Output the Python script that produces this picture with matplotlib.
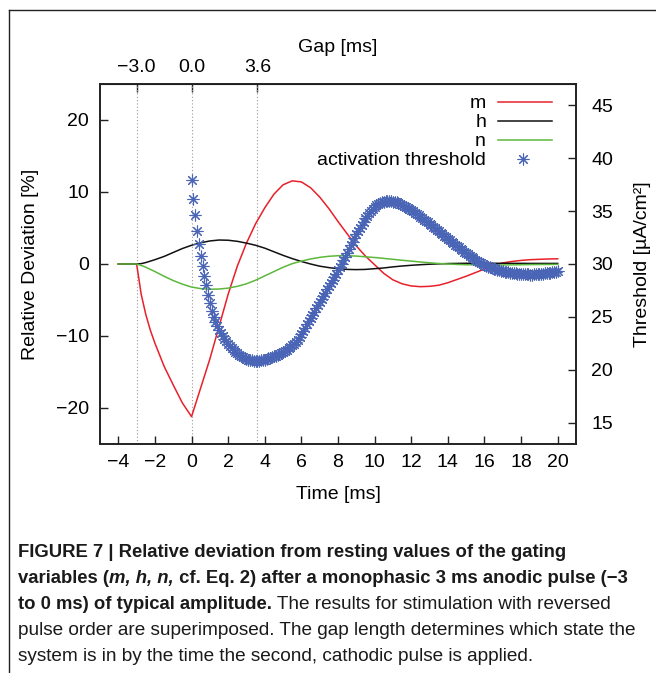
import numpy as np
import matplotlib
matplotlib.use('Agg')
import matplotlib.pyplot as plt
from matplotlib.lines import Line2D

plt.rcParams['font.family'] = ['Liberation Sans', 'DejaVu Sans']
plt.rcParams['axes.unicode_minus'] = True

CAPTION_FONT = ['Liberation Sans', 'DejaVu Sans']

# Gating variables, relative deviation from rest [%]
time_ms = [-4, -3, -2.75, -2.5, -2.25, -2, -1.5, -1, -0.5, 0, 0.5, 1, 1.5, 2,
           2.5, 3, 3.5, 4, 4.5, 5, 5.5, 6, 6.5, 7, 7.5, 8, 8.5, 9, 9.5, 10,
           10.5, 11, 11.5, 12, 12.5, 13, 13.5, 14, 14.5, 15, 15.5, 16, 16.5,
           17, 17.5, 18, 18.5, 19, 19.5, 20]
m_dev = [0, 0, -4.2, -7.0, -9.2, -11.0, -14.2, -16.8, -19.3, -21.2, -17.2,
         -13.2, -8.7, -4.2, -0.3, 2.9, 5.6, 7.8, 9.7, 11.0, 11.55, 11.4, 10.6,
         9.3, 7.7, 5.9, 4.2, 2.5, 1.1, -0.1, -1.3, -2.2, -2.75, -3.05, -3.15,
         -3.1, -2.95, -2.6, -2.15, -1.7, -1.2, -0.7, -0.2, 0.15, 0.35, 0.5,
         0.6, 0.65, 0.7, 0.72]
h_dev = [0, 0, 0.05, 0.2, 0.4, 0.6, 1.05, 1.6, 2.15, 2.6, 2.95, 3.2, 3.33,
         3.3, 3.15, 2.9, 2.6, 2.2, 1.7, 1.2, 0.75, 0.35, 0.0, -0.3, -0.5,
         -0.65, -0.75, -0.78, -0.75, -0.65, -0.55, -0.4, -0.28, -0.18, -0.1,
         -0.03, 0.02, 0.06, 0.08, 0.1, 0.1, 0.1, 0.1, 0.1, 0.09, 0.09, 0.08,
         0.08, 0.08, 0.08]
n_dev = [0, 0, -0.2, -0.45, -0.75, -1.05, -1.7, -2.3, -2.8, -3.2, -3.42,
         -3.5, -3.48, -3.35, -3.1, -2.75, -2.25, -1.65, -1.05, -0.45, 0.05,
         0.4, 0.7, 0.92, 1.07, 1.15, 1.15, 1.1, 1.0, 0.9, 0.78, 0.65, 0.52,
         0.4, 0.28, 0.17, 0.07, 0.0, -0.06, -0.1, -0.13, -0.15, -0.15, -0.14,
         -0.12, -0.1, -0.08, -0.07, -0.06, -0.05]

# Activation threshold [uA/cm^2] for gaps 0 .. 20 ms in 0.1 ms steps
gap_ms = np.linspace(0, 20, 201)
threshold = [
    37.95, 36.1, 34.6, 33.1, 31.9, 30.8, 29.8, 28.9, 28.0, 27.1,
    26.3, 25.6, 25.0, 24.5, 24.1, 23.8, 23.5, 23.2, 22.9, 22.7,
    22.45, 22.25, 22.05, 21.85, 21.7, 21.55, 21.42, 21.3, 21.2, 21.1,
    21.03, 20.97, 20.92, 20.89, 20.87, 20.86, 20.86, 20.88, 20.9, 20.94,
    20.98, 21.03, 21.08, 21.14, 21.2, 21.27, 21.34, 21.42, 21.5, 21.6,
    21.7, 21.8, 21.92, 22.05, 22.18, 22.32, 22.48, 22.65, 22.85, 23.1,
    23.4, 23.7, 24.0, 24.3, 24.6, 24.9, 25.2, 25.5, 25.8, 26.1,
    26.4, 26.7, 27.0, 27.3, 27.6, 27.9, 28.2, 28.5, 28.8, 29.1,
    29.4, 29.7, 30.0, 30.35, 30.7, 31.05, 31.4, 31.75, 32.1, 32.45,
    32.8, 33.1, 33.4, 33.7, 34.0, 34.3, 34.55, 34.8, 35.0, 35.2,
    35.4, 35.55, 35.68, 35.78, 35.85, 35.9, 35.93, 35.95, 35.95, 35.93,
    35.9, 35.86, 35.81, 35.75, 35.68, 35.6, 35.51, 35.42, 35.32, 35.21,
    35.1, 34.98, 34.85, 34.72, 34.59, 34.45, 34.32, 34.19, 34.06, 33.93,
    33.8, 33.66, 33.52, 33.38, 33.24, 33.1, 32.96, 32.82, 32.68, 32.54,
    32.4, 32.26, 32.12, 31.98, 31.84, 31.7, 31.57, 31.44, 31.31, 31.18,
    31.05, 30.92, 30.79, 30.66, 30.53, 30.4, 30.29, 30.18, 30.08, 29.99,
    29.9, 29.82, 29.75, 29.68, 29.61, 29.55, 29.5, 29.45, 29.4, 29.35,
    29.3, 29.27, 29.24, 29.21, 29.18, 29.15, 29.13, 29.11, 29.09, 29.07,
    29.05, 29.04, 29.03, 29.02, 29.01, 29.0, 29.0, 29.01, 29.02, 29.03,
    29.05, 29.07, 29.09, 29.11, 29.13, 29.15, 29.18, 29.21, 29.24, 29.27,
    29.3,
]

gap_ticks = [-3.0, 0.0, 3.6]
time_ticks = list(range(-4, 21, 2))
dev_ticks = [-20, -10, 0, 10, 20]
thr_ticks = [15, 20, 25, 30, 35, 40, 45]

series_labels = ['m', 'h', 'n', 'activation threshold']
line_colors = ['#e8202a', '#111111', '#5cb83a']
star_color = '#4a65b5'
star_marker = (8, 2, 0)

caption_lines = [
    [('FIGURE 7 | Relative deviation from resting values of the gating', 'bold', 'normal')],
    [('variables (', 'bold', 'normal'), ('m, h, n,', 'bold', 'italic'),
     (' cf. Eq. 2) after a monophasic 3 ms anodic pulse (\u22123', 'bold', 'normal')],
    [('to 0 ms) of typical amplitude.', 'bold', 'normal'),
     (' The results for stimulation with reversed', 'normal', 'normal')],
    [('pulse order are superimposed. The gap length determines which state the', 'normal', 'normal')],
    [('system is in by the time the second, cathodic pulse is applied.', 'normal', 'normal')],
]
caption_size = {'bold': 13.3, 'normal': 13.7}


def draw_runs(fig, x0, y, runs):
    # place styled pieces of one caption line side by side
    renderer = fig.canvas.get_renderer()
    x = x0
    for text, weight, style in runs:
        t = fig.text(x, y, text, fontsize=caption_size[weight], fontweight=weight,
                     fontstyle=style, family=CAPTION_FONT,
                     ha='left', va='baseline', color='#1a1a1a')
        bb = t.get_window_extent(renderer)
        x = bb.x1 / fig.bbox.width


W, H = 656, 673
fig = plt.figure(figsize=(W / 100, H / 100), dpi=100)
ax = fig.add_axes([100 / W, 1 - 444 / H, 476 / W, 360 / H])

for v in gap_ticks:
    ax.axvline(v, color='#999999', lw=0.8, ls=(0, (1, 2)), zorder=1)

for vals, col in zip([m_dev, h_dev, n_dev], line_colors):
    ax.plot(time_ms, vals, color=col, lw=1.1, zorder=3)

ax.set_xlim(-5, 21)
ax.set_ylim(-25, 25)
ax.set_xticks(time_ticks)
ax.set_yticks(dev_ticks)
ax.tick_params(direction='in', length=6, width=1, labelsize=14, color='#222222')
ax.tick_params(axis='x', pad=7)
ax.tick_params(axis='y', pad=8)
ax.set_xlabel('Time [ms]', fontsize=14, labelpad=11)
ax.set_ylabel('Relative Deviation [%]', fontsize=14, labelpad=12)
for sp in ax.spines.values():
    sp.set_linewidth(1.2)
    sp.set_color('#222222')

# gap axis on top
top = ax.secondary_xaxis('top')
top.set_xticks(gap_ticks)
top.set_xticklabels([f'{v:.1f}'.replace('-', '\u2212') for v in gap_ticks])
top.tick_params(direction='in', length=6, width=1, labelsize=14, pad=6, color='#222222')
top.set_xlabel('Gap [ms]', fontsize=14, labelpad=5)

# threshold on right axis
ax2 = ax.twinx()
ax2.plot(gap_ms, threshold, ls='none', marker=star_marker, ms=8.5, mew=0.8,
         color=star_color, zorder=4)
ax2.set_ylim(13, 47)
ax2.set_yticks(thr_ticks)
ax2.tick_params(direction='in', length=6, width=1, labelsize=14, pad=11, color='#222222')
ax2.set_ylabel('Threshold [\u00b5A/cm\u00b2]', fontsize=14, labelpad=15)
for sp in ax2.spines.values():
    sp.set_linewidth(1.2)
    sp.set_color('#222222')

# key, right aligned text with samples to the right
for i, label in enumerate(series_labels):
    yk = 0.949 - i * 0.052
    ax.text(0.811, yk - 0.017, label, transform=ax.transAxes, ha='right',
            va='baseline', fontsize=14)
    if i < 3:
        ax.add_line(Line2D([0.836, 0.950], [yk, yk], transform=ax.transAxes,
                           color=line_colors[i], lw=1.1))
    else:
        ax.add_line(Line2D([0.889], [yk], transform=ax.transAxes, ls='none',
                           marker=star_marker, ms=8.5, mew=0.8, color=star_color))

# outer frame lines
fig.add_artist(Line2D([9 / W, 1], [1 - 10 / H, 1 - 10 / H], color='#222222', lw=1))
fig.add_artist(Line2D([9 / W, 9 / W], [0, 1 - 10 / H], color='#222222', lw=1))

baselines = [557, 583, 609, 635, 661]
for runs, yb in zip(caption_lines, baselines):
    draw_runs(fig, 18 / W, 1 - yb / H, runs)

fig.savefig('out.png', dpi=100)
